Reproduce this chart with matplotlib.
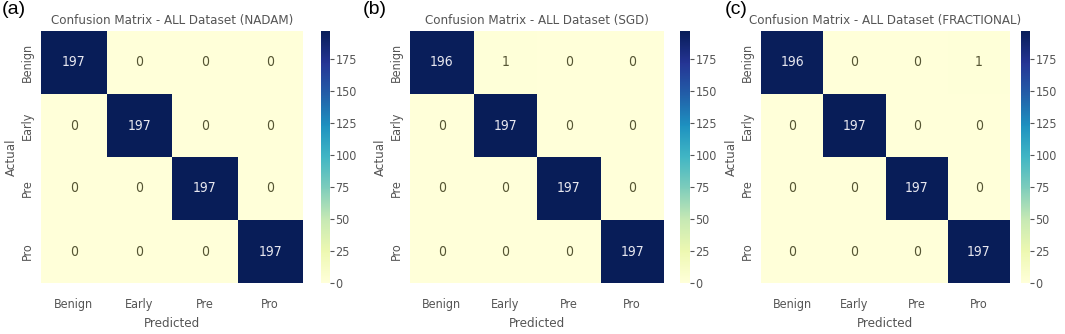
import matplotlib
matplotlib.use("Agg")
import matplotlib.pyplot as plt
import numpy as np
import seaborn as sns

classes = ["Benign", "Early", "Pre", "Pro"]
panel_tags = ["(a)", "(b)", "(c)"]
optimizers = ["NADAM", "SGD", "FRACTIONAL"]

cm_nadam = [[197, 0, 0, 0],
            [0, 197, 0, 0],
            [0, 0, 197, 0],
            [0, 0, 0, 197]]
cm_sgd = [[196, 1, 0, 0],
          [0, 197, 0, 0],
          [0, 0, 197, 0],
          [0, 0, 0, 197]]
cm_frac = [[196, 0, 0, 1],
           [0, 197, 0, 0],
           [0, 0, 197, 0],
           [0, 0, 0, 197]]
matrices = [cm_nadam, cm_sgd, cm_frac]
cbar_ticks = [0, 25, 50, 75, 100, 125, 150, 175]

plt.rcParams["font.family"] = ["DejaVu Sans"]
plt.rcParams["font.stretch"] = "condensed"

W, H = 1065, 334
fig = plt.figure(figsize=(W / 100, H / 100), dpi=100)

# pixel boxes: heatmap (left, right), colorbar (left, right), tag x
boxes = [
    ((41, 303), (321, 330), 2),
    ((410, 664), (680, 690), 363),
    ((761, 1010), (1021, 1030), 725),
]
top_px, bot_px = 31, 283
grey = "#555555"


def px_axes(x0, x1, y0, y1):
    return fig.add_axes([x0 / W, 1 - y1 / H, (x1 - x0) / W, (y1 - y0) / H])


for cm, opt, tag, ((hx0, hx1), (cx0, cx1), tx) in zip(matrices, optimizers, panel_tags, boxes):
    ax = px_axes(hx0, hx1, top_px, bot_px)
    cax = px_axes(cx0, cx1, top_px, bot_px)
    data = np.array(cm)
    sns.heatmap(data, ax=ax, cbar_ax=cax, cmap="YlGnBu", vmin=0, vmax=197,
                annot=True, fmt="d", xticklabels=classes, yticklabels=classes,
                annot_kws={"fontsize": 10},
                cbar_kws={"ticks": cbar_ticks})
    for t in ax.texts:
        if t.get_text() in ("196", "197"):
            t.set_color("#e8e8f0")
        else:
            t.set_color("#555533")
    ax.tick_params(length=0, labelsize=9, labelcolor=grey, pad=11)
    ax.tick_params(axis="y", pad=5)
    plt.setp(ax.get_yticklabels(), rotation=90, va="center")
    ax.set_xlabel("Predicted", fontsize=9.5, color=grey, labelpad=4)
    ax.set_ylabel("Actual", fontsize=9.5, color=grey, labelpad=2)
    ax.set_title(f"Confusion Matrix - ALL Dataset ({opt})", fontsize=9.5,
                 color=grey, pad=5)
    cax.tick_params(labelsize=9, labelcolor=grey, length=3, width=0.8,
                    color=grey, pad=1)
    cbar = ax.collections[0].colorbar
    if cbar is not None:
        cbar.outline.set_visible(False)
    fig.text(tx / W, 1 - 1 / H, tag, fontsize=14, va="top", ha="left",
             family=["Liberation Sans", "DejaVu Sans"], stretch="normal")

fig.savefig("out.png", dpi=100)
